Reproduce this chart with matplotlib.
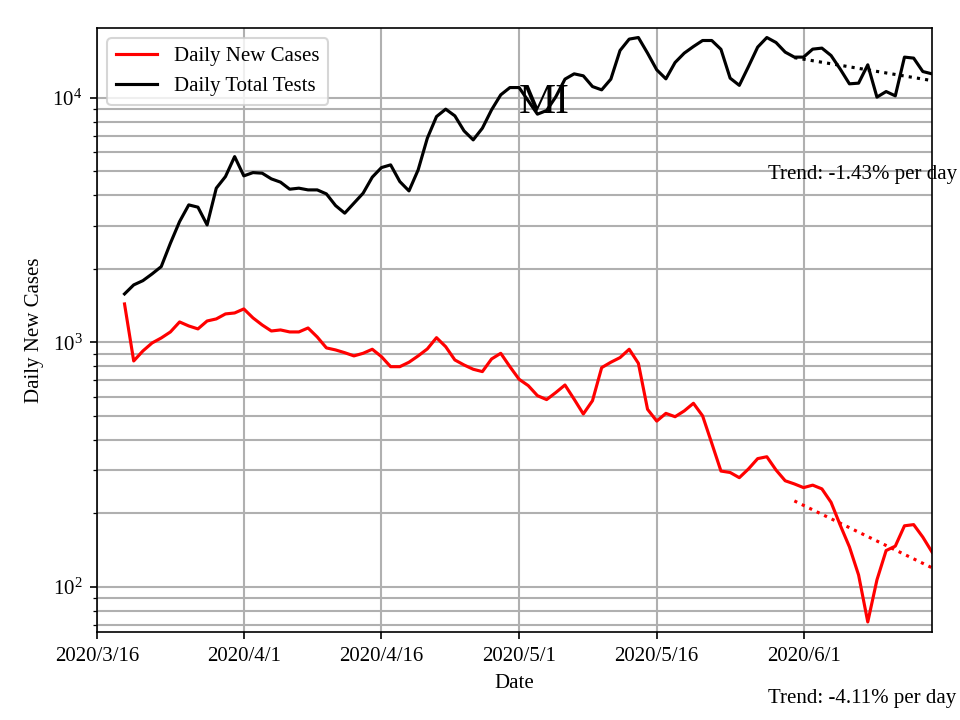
import matplotlib
matplotlib.use("Agg")
import matplotlib.pyplot as plt
import matplotlib.dates as mdates
import numpy as np
import pandas as pd

plt.rcParams['font.family'] = ['Liberation Serif', 'DejaVu Serif']
plt.rcParams['mathtext.fontset'] = 'custom'
plt.rcParams['mathtext.rm'] = 'Liberation Serif'
plt.rcParams['mathtext.it'] = 'Liberation Serif:italic'
plt.rcParams['font.size'] = 10

start_date = "2020-03-19"
xlim_left = "2020-03-16"

new_cases = [1437, 840, 923, 995, 1043, 1104, 1213, 1168, 1136, 1224,
             1248, 1308, 1320, 1371, 1260, 1179, 1114, 1125, 1104, 1104,
             1146, 1053, 950, 932, 908, 881, 903, 938, 875, 796,
             796, 830, 881, 941, 1046, 961, 848, 809, 777, 760,
             856, 903, 796, 707, 666, 606, 584, 624, 670, 586,
             510, 578, 789, 830, 867, 938, 822, 533, 477, 513,
             497, 525, 564, 501, 387, 298, 294, 280, 304, 335,
             341, 301, 272, 264, 255, 261, 252, 222, 179, 146,
             112, 72, 107, 141, 147, 178, 180, 160, 139]

total_tests = [1579, 1719, 1789, 1906, 2042, 2545, 3120, 3651, 3573, 3024,
               4273, 4766, 5752, 4797, 4948, 4920, 4664, 4522, 4232, 4273,
               4204, 4204, 4049, 3627, 3377, 3710, 4075, 4740, 5187, 5321,
               4548, 4164, 5076, 6842, 8385, 8990, 8441, 7328, 6732, 7517,
               8932, 10287, 11018, 11018, 9721, 8577, 8873, 10094, 11926, 12537,
               12303, 11122, 10782, 11926, 15614, 17384, 17646, 15234, 13019, 11959,
               13948, 15234, 16210, 17157, 17157, 15790, 12039, 11249, 13428, 16120,
               17646, 16837, 15378, 14673, 14673, 15819, 15969, 14894, 13106, 11410,
               11484, 13646, 10067, 10612, 10190, 14673, 14535, 12810, 12537]

# trend lines: start index, start value, daily rate
trend_start_idx = 73
cases_trend_start = 225
cases_trend_rate = -4.11
tests_trend_start = 14600
tests_trend_rate = -1.43

tick_dates = ["2020-03-16", "2020-04-01", "2020-04-16", "2020-05-01", "2020-05-16", "2020-06-01"]
tick_labels = ["2020/3/16", "2020/4/1", "2020/4/16", "2020/5/1", "2020/5/16", "2020/6/1"]

dates = pd.date_range(start_date, periods=len(new_cases), freq="D")

fig = plt.figure(figsize=(6.4, 4.8), dpi=150)
ax = fig.add_axes([97/960, 1-632/720, (932-97)/960, (632-28)/720])

ax.plot(dates, new_cases, color='red', lw=1.5, label='Daily New Cases')
ax.plot(dates, total_tests, color='black', lw=1.5, label='Daily Total Tests')

tdates = dates[trend_start_idx:]
k = np.arange(len(tdates))
ax.plot(tdates, cases_trend_start * (1 + cases_trend_rate/100) ** k, color='red', ls=':', lw=1.5)
ax.plot(tdates, tests_trend_start * (1 + tests_trend_rate/100) ** k, color='black', ls=':', lw=1.5)

ax.set_yscale('log')
ax.set_ylim(65.5, 19300)
ax.set_xlim(pd.Timestamp(xlim_left), dates[-1])
ax.set_xticks(pd.to_datetime(tick_dates))
ax.set_xticklabels(tick_labels)

ax.grid(True, which='major', color='#b0b0b0', lw=1)
ax.grid(True, which='minor', axis='y', color='#b0b0b0', lw=1)
ax.set_axisbelow(True)

ax.set_xlabel('Date')
ax.set_ylabel('Daily New Cases')
ax.legend(loc='upper left')

ax.text(pd.Timestamp("2020-05-01"), 9540, 'MI', fontsize=20, ha='left', va='center')

fig.text(768/960, 1-175/720, 'Trend: %.2f%% per day' % tests_trend_rate, va='center', ha='left')
fig.text(768/960, 1-698/720, 'Trend: %.2f%% per day' % cases_trend_rate, va='center', ha='left')

fig.savefig('out.png', dpi=150)
